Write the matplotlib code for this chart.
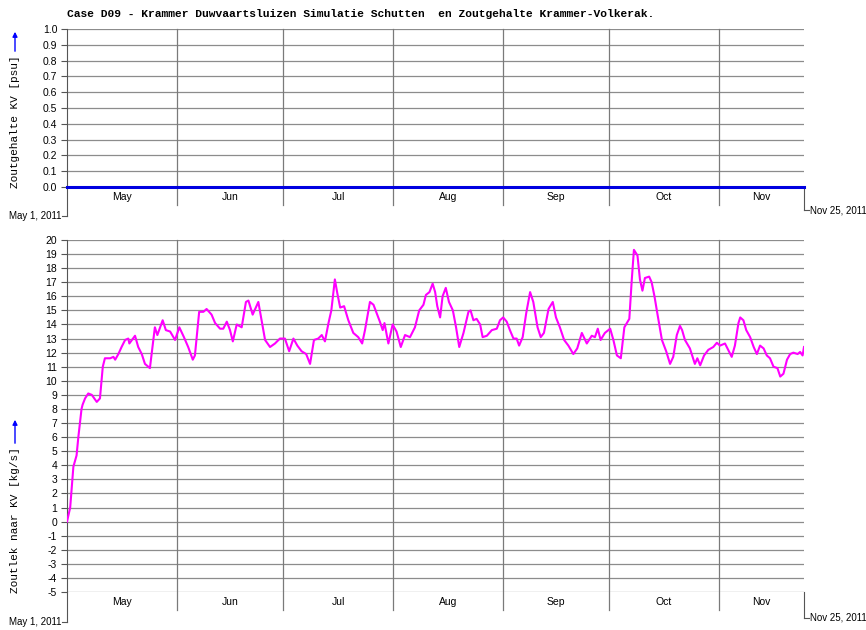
import matplotlib
matplotlib.use('Agg')
import matplotlib.pyplot as plt
from matplotlib.patches import FancyArrowPatch
from matplotlib.lines import Line2D
import numpy as np
import pandas as pd

START = pd.Timestamp('2011-05-01')
END = pd.Timestamp('2011-11-25')

# zoutgehalte KV [psu] -- stays at zero for the whole run
salt_day = [0.0, 208.0]
salt_psu = [0.0, 0.0]

# zoutlek naar KV [kg/s] (days since May 1)
leak_day = [
    0.0, 0.9, 1.8, 2.7, 3.2, 4.1, 4.4, 5.1, 6.0, 7.0, 8.4, 9.3, 10.1, 10.7, 12.2,
    13.1, 13.6, 14.5, 15.4, 16.4, 17.3, 17.6, 19.2, 20.1, 21.1, 22.0, 23.4, 24.8,
    25.5, 27.0, 27.9, 29.1, 30.5, 31.7, 33.0, 34.2, 35.5, 36.1, 37.3, 38.5, 39.4,
    40.8, 41.8, 43.2, 44.1, 45.1, 46.0, 46.8, 47.9, 49.3, 50.5, 51.2, 52.4, 53.1,
    54.0, 54.9, 55.9, 57.3, 58.7, 60.1, 61.5, 62.7, 63.9, 65.0, 66.2, 67.5, 68.6,
    69.7, 70.9, 71.9, 72.8, 73.8, 74.6, 75.6, 76.3, 77.1, 78.2, 79.4, 80.8, 82.2,
    83.3, 84.1, 85.5, 86.5, 87.4, 88.3, 89.1, 89.6, 90.7, 91.9, 93.0, 94.2, 95.4,
    96.8, 98.2, 99.4, 100.6, 101.3, 102.3, 103.2, 103.9, 104.5, 105.3, 106.0,
    106.9, 107.8, 108.9, 109.8, 110.7, 111.9, 113.3, 113.9, 114.7, 115.6, 116.6,
    117.3, 118.5, 119.9, 121.3, 122.2, 123.1, 124.1, 125.0, 126.0, 126.9, 127.6,
    128.6, 129.6, 130.7, 131.6, 132.8, 133.7, 134.6, 135.9, 137.1, 138.0, 139.1,
    140.3, 141.5, 142.9, 144.0, 145.3, 146.7, 148.1, 149.0, 149.8, 150.6, 151.8,
    153.3, 154.2, 155.2, 156.3, 157.3, 158.0, 158.7, 159.4, 160.0, 161.0, 161.7,
    162.4, 163.1, 164.3, 165.0, 165.8, 166.6, 167.9, 169.1, 170.2, 171.1, 172.1,
    173.0, 173.6, 174.4, 175.8, 177.2, 177.9, 178.7, 179.8, 181.0, 182.4, 183.4,
    184.3, 185.7, 186.6, 187.6, 188.5, 189.5, 190.0, 190.9, 191.7, 192.8, 193.8,
    194.7, 195.6, 196.6, 197.5, 198.4, 199.4, 200.5, 201.3, 202.2, 203.2, 204.1,
    205.0, 206.2, 206.9, 207.6, 208.0,
]
leak_kgs = [
    0.0, 1.0, 3.9, 4.7, 6.0, 8.0, 8.3, 8.75, 9.1, 9.0, 8.5, 8.75, 11.0, 11.6, 11.6,
    11.7, 11.5, 11.9, 12.4, 12.9, 13.0, 12.65, 13.2, 12.4, 11.9, 11.2, 10.9, 13.8,
    13.25, 14.3, 13.6, 13.5, 12.9, 13.8, 13.1, 12.4, 11.5, 11.8, 14.9, 14.9, 15.1,
    14.7, 14.1, 13.7, 13.7, 14.2, 13.6, 12.8, 14.0, 13.8, 15.6, 15.7, 14.7, 15.1,
    15.6, 14.3, 12.9, 12.4, 12.65, 13.0, 13.0, 12.1, 13.0, 12.5, 12.1, 11.9, 11.2,
    12.9, 13.0, 13.25, 12.8, 14.1, 15.0, 17.2, 16.2, 15.2, 15.3, 14.3, 13.4, 13.1,
    12.65, 13.6, 15.6, 15.4, 14.8, 14.2, 13.6, 14.1, 12.65, 14.0, 13.5, 12.4, 13.25,
    13.1, 13.8, 15.0, 15.4, 16.1, 16.3, 16.9, 16.3, 15.3, 14.5, 16.0,
    16.6, 15.6, 15.0, 13.8, 12.4, 13.4, 14.9, 15.0, 14.3, 14.4, 14.0,
    13.1, 13.2, 13.6, 13.7, 14.3, 14.5, 14.2, 13.6, 13.0, 13.0, 12.5,
    13.1, 14.8, 16.3, 15.6, 13.8, 13.1, 13.4, 15.1, 15.6, 14.5, 13.8,
    12.9, 12.5, 11.9, 12.3, 13.4, 12.65, 13.2, 13.1, 13.7, 12.9, 13.4,
    13.7, 12.9, 11.8, 11.6, 13.8, 14.1, 14.4, 17.2, 19.3, 18.9, 17.2,
    16.4, 17.3, 17.4, 17.0, 16.0, 14.8, 12.9, 12.1, 11.2, 11.7, 13.25,
    13.9, 13.6, 12.9, 12.3, 11.2, 11.6, 11.1, 11.8, 12.2, 12.4, 12.7,
    12.5, 12.65, 12.2, 11.7, 12.5, 14.1, 14.5, 14.3, 13.6, 13.1, 12.4,
    11.9, 12.5, 12.3, 11.8, 11.6, 11.0, 10.9, 10.3, 10.5, 11.5, 11.9,
    12.0, 11.9, 12.05, 11.8, 12.4,
]

salt_ticks = np.round(np.arange(0.0, 1.01, 0.1), 1)
leak_ticks = np.arange(-5, 21, 1)

W, H = 866, 630
MONO = 'Liberation Mono'
SANS = 'Liberation Sans'


def fx(px):
    return px / W


def fy(py):
    return 1 - py / H


def to_dates(days):
    return START + pd.to_timedelta(np.asarray(days), unit='D')


def setup_panel(fig, ax, ylim, ticks, fmt, label, band_px, left_tick_px, right_tick_px, lab_y, arrow):
    ax.set_xlim(START, END)
    ax.set_ylim(*ylim)
    ax.set_yticks(ticks)
    ax.set_yticklabels([fmt.format(t) for t in ticks], fontsize=7.5, family=SANS)
    ax.tick_params(axis='y', length=4, width=0.8, color='#555555', pad=3)
    ax.tick_params(axis='x', bottom=False, labelbottom=False)
    for s in ['top', 'right', 'bottom']:
        ax.spines[s].set_visible(False)
    ax.spines['left'].set_color('#555555')
    ax.spines['left'].set_linewidth(0.8)
    for t in ticks:
        ax.axhline(t, color='#8c8c8c', linewidth=0.9, zorder=1)

    ax_h = ax.get_position().height * H
    below = lambda px: -px / ax_h  # pixels below axes bottom -> axes fraction
    trans = ax.get_xaxis_transform()

    bounds = pd.date_range('2011-06-01', '2011-11-01', freq='MS')
    for b in bounds:
        ax.add_line(Line2D([b, b], [below(band_px), 1], transform=trans, color='#7a7a7a',
                           linewidth=0.9, clip_on=False, zorder=1))
    edges = [START] + list(bounds) + [END]
    for a, b in zip(edges[:-1], edges[1:]):
        mid = a + (b - a) / 2
        ax.text(mid, below(band_px / 2 + 1), a.strftime('%b'), transform=trans, ha='center',
                va='center', fontsize=7.5, family=SANS)

    # extended left spine with start-date tick
    ax.add_line(Line2D([START, START], [0, below(left_tick_px)], transform=trans, color='#555555',
                       linewidth=0.8, clip_on=False))
    ax.add_line(Line2D([START - pd.Timedelta(days=1.4), START], [below(left_tick_px)] * 2,
                       transform=trans, color='#555555', linewidth=0.8, clip_on=False))
    ax.text(START - pd.Timedelta(days=1.6), below(left_tick_px), 'May 1, 2011', transform=trans,
            ha='right', va='center', fontsize=7, family=SANS)
    # end-date tick on the right
    ax.add_line(Line2D([END, END], [0, below(right_tick_px)], transform=trans, color='#555555',
                       linewidth=0.8, clip_on=False))
    ax.add_line(Line2D([END, END + pd.Timedelta(days=1.4)], [below(right_tick_px)] * 2,
                       transform=trans, color='#555555', linewidth=0.8, clip_on=False))
    ax.text(END + pd.Timedelta(days=1.8), below(right_tick_px), 'Nov 25, 2011', transform=trans,
            ha='left', va='center', fontsize=7, family=SANS)

    fig.text(fx(15), fy(lab_y), label, rotation=90, ha='center', va='center',
             fontsize=8, family=MONO)
    fig.add_artist(FancyArrowPatch((fx(15), fy(arrow[0])), (fx(15), fy(arrow[1])),
                                   transform=fig.transFigure, arrowstyle='-|>', mutation_scale=7,
                                   color='#0000ff', linewidth=1.0))


fig = plt.figure(figsize=(W / 100, H / 100), dpi=100)
fig.patch.set_facecolor('white')

ax_top = fig.add_axes([fx(67), fy(187), fx(804) - fx(67), (187 - 29) / H])
ax_bot = fig.add_axes([fx(67), fy(592), fx(804) - fx(67), (592 - 240) / H])

setup_panel(fig, ax_top, (0, 1.0), salt_ticks, '{:.1f}', 'Zoutgehalte KV [psu]',
            18, 29, 23, 122, (54, 29))
setup_panel(fig, ax_bot, (-5, 20), leak_ticks, '{:d}', 'Zoutlek naar KV [kg/s]',
            18, 30, 26, 520, (446, 417))

ax_top.plot(to_dates(salt_day), salt_psu, color='#0000e0', linewidth=2.2, zorder=3, clip_on=False)
ax_bot.plot(to_dates(leak_day), leak_kgs, color='#ff00ff', linewidth=1.5, zorder=3)

fig.text(fx(67), fy(14), 'Case D09 - Krammer Duwvaartsluizen Simulatie Schutten  en Zoutgehalte Krammer-Volkerak.',
         ha='left', va='center', fontsize=8.1, family=MONO, fontweight='bold')

fig.savefig('out.png', dpi=100)
